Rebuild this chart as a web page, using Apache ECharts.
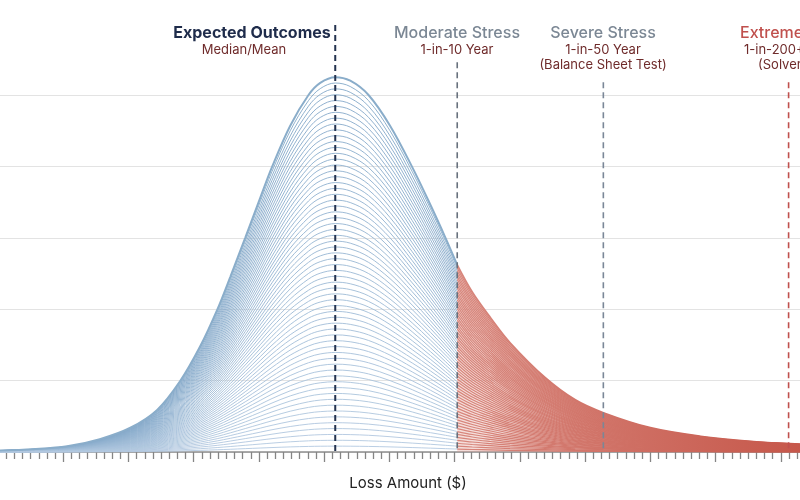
<!DOCTYPE html>
<html>
<head>
<meta charset="utf-8">
<script src="https://cdn.jsdelivr.net/npm/echarts@6/dist/echarts.min.js"></script>
<style>
  html, body { margin: 0; padding: 0; background: #fff; }
  #main { width: 800px; height: 500px; }
</style>
</head>
<body>
<div id="main"></div>
<script>
// outer loss curve (x in tick units, y in grid units)
var curveX = [0, 0.54, 1.06, 1.56, 2.03, 2.44, 2.79, 3.10, 3.36, 3.56, 3.79, 4.02, 4.20, 4.48, 4.76, 4.94,
              5.17, 5.40, 5.68, 6.01, 6.35, 6.63, 6.86, 7.04, 7.27, 7.55, 7.85, 8.39, 8.85, 9.28, 10.0, 10.77, 11.53, 12.3];
var curveY = [0.02, 0.04, 0.08, 0.18, 0.34, 0.59, 0.99, 1.48, 1.99, 2.45, 3.00, 3.56, 3.99, 4.57, 5.00, 5.17,
              5.25, 5.20, 5.00, 4.57, 3.99, 3.46, 3.00, 2.62, 2.24, 1.88, 1.53, 1.04, 0.73, 0.55, 0.34, 0.22, 0.15, 0.11];
var splitX = 7.04;      // tail starts at the 1-in-10 line
var levelCount = 64;    // number of nested contour lines

// scenario markers
var markers = [
  { name: 'Expected Outcomes', x: 5.17, top: 5.98, color: '#24334f', width: 2 },
  { name: 'Moderate Stress', x: 7.04, top: 5.46, color: '#68717d', width: 1.6 },
  { name: 'Severe Stress', x: 9.28, top: 5.18, color: '#7a8797', width: 1.6 },
  { name: 'Extreme Stress', x: 12.12, top: 5.18, color: '#c0504d', width: 1.6 }
];

var dom = document.getElementById('main');
var myChart = echarts.init(dom);

var series = [];
for (var l = 0; l < levelCount; l++) {
  var k = 1 - l / levelCount;
  var blue = [], red = [];
  for (var i = 0; i < curveX.length; i++) {
    if (curveX[i] <= splitX) blue.push([curveX[i], curveY[i] * k]);
    if (curveX[i] >= splitX) red.push([curveX[i], curveY[i] * k]);
  }
  var outer = l === 0;
  var t = l / levelCount;
  series.push({
    type: 'line', data: blue, smooth: 0.35, symbol: 'none', clip: false, silent: true,
    z: 3 + (outer ? 1 : 0),
    lineStyle: {
      width: outer ? 2 : 1,
      color: outer ? '#8aadca' : 'rgba(' + Math.round(130 + 50 * t) + ',' + Math.round(167 + 35 * t) + ',' + Math.round(200 + 25 * t) + ',0.9)'
    }
  });
  series.push({
    type: 'line', data: red, smooth: 0.35, symbol: 'none', clip: false, silent: true,
    z: 3,
    lineStyle: {
      width: outer ? 1.8 : 1.2,
      color: new echarts.graphic.LinearGradient(0, 0, 1, 0, [
        { offset: 0, color: '#d8877d' },
        { offset: 1, color: '#c6574a' }
      ])
    },
    areaStyle: outer ? {
      color: new echarts.graphic.LinearGradient(0, 0, 1, 0, [
        { offset: 0, color: 'rgba(222,150,140,0.45)' },
        { offset: 1, color: 'rgba(200,90,78,0.6)' }
      ])
    } : undefined
  });
}

markers.forEach(function (m) {
  series.push({
    type: 'line', data: [[m.x, m.top], [m.x, 0]], symbol: 'none', clip: false, silent: true, z: 10,
    lineStyle: { color: m.color, width: m.width, type: [6, 4] }
  });
});

var font = 'Inter, "Noto Sans", sans-serif';
function label(text, x, y, size, weight, color, align) {
  return {
    type: 'text', x: x, y: y, z: 20,
    style: { text: text, font: weight + ' ' + size + 'px ' + font, fill: color,
             textAlign: align || 'center', textVerticalAlign: 'middle' }
  };
}

var option = {
  animation: false,
  backgroundColor: '#ffffff',
  grid: { left: -2, width: 848, top: 95, bottom: 48, outerBoundsMode: 'none' },
  xAxis: {
    type: 'value', min: 0, max: 13, interval: 1,
    axisLine: { lineStyle: { color: '#8e8e8e', width: 1.5 } },
    axisTick: { show: true, length: 10, lineStyle: { color: '#858585', width: 1.3 } },
    minorTick: { show: true, splitNumber: 8, length: 7, lineStyle: { color: '#858585', width: 1.3 } },
    axisLabel: { show: false },
    splitLine: { show: false }
  },
  yAxis: {
    type: 'value', min: 0, max: 5, interval: 1,
    axisLine: { show: false }, axisTick: { show: false }, axisLabel: { show: false },
    splitLine: { lineStyle: { color: '#e3e3e3', width: 1.2 } }
  },
  graphic: [
    label('Expected Outcomes', 252, 33, 16, 700, '#1f2c4b'),
    label('Median/Mean', 244, 50, 13, 400, '#6f2b2b'),
    label('Moderate Stress', 457, 33, 16, 500, '#7b8794'),
    label('1-in-10 Year', 457, 50, 13, 400, '#6f2b2b'),
    label('Severe Stress', 603, 33, 16, 500, '#7b8794'),
    label('1-in-50 Year', 603, 50, 13, 400, '#6f2b2b'),
    label('(Balance Sheet Test)', 603, 65, 13, 400, '#6f2b2b'),
    label('Extreme Stress', 740, 33, 16, 500, '#c0504d', 'left'),
    label('1-in-200+ Year', 744, 50, 13, 400, '#6f2b2b', 'left'),
    label('(Solvency Test)', 758, 65, 13, 400, '#6f2b2b', 'left'),
    label('Loss Amount ($)', 408, 483, 15, 400, '#222222')
  ],
  series: series
};

if (option && typeof option === 'object') {
  myChart.setOption(option, true);
}
</script>
</body>
</html>
